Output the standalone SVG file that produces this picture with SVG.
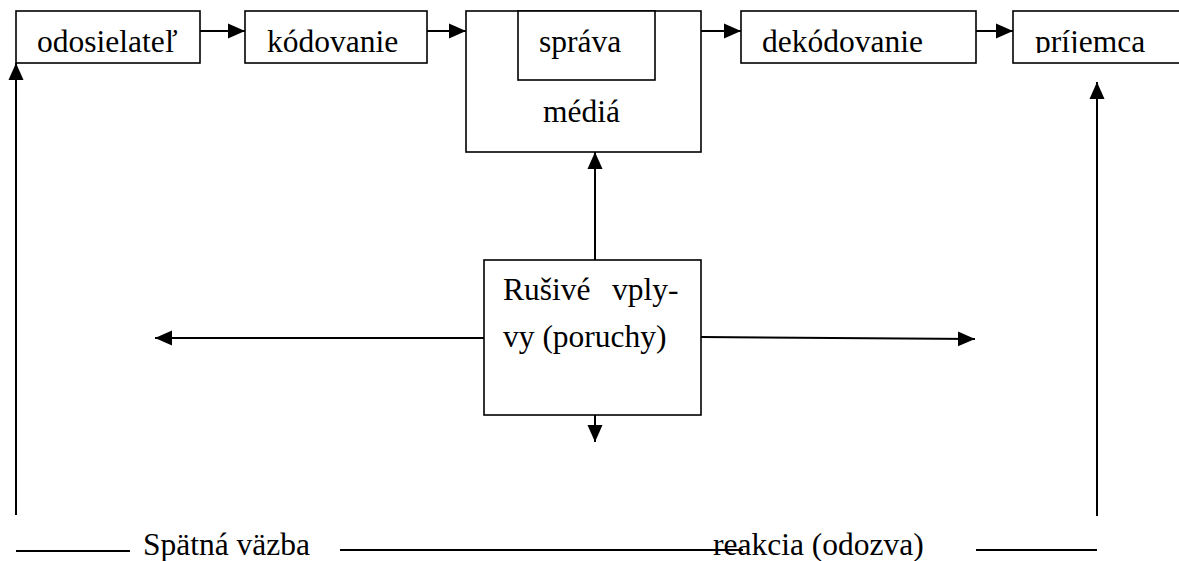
<svg xmlns="http://www.w3.org/2000/svg" width="1179" height="561" viewBox="0 0 1179 561">
<style>
  .box { fill: #fff; stroke: #000; stroke-width: 1.6; }
  .t { font-family: "Liberation Serif", "Times New Roman", serif; font-size: 31.5px; fill: #000; }
  .c { stroke: #000; stroke-width: 2; fill: none; }
  .ca { stroke: #000; stroke-width: 2; fill: none; marker-end: url(#ah); }
</style>
<defs>
  <marker id="ah" markerUnits="userSpaceOnUse" markerWidth="18" markerHeight="16" refX="17" refY="8" orient="auto">
    <path d="M0,0.5 L17,8 L0,15.5 z" fill="#000"/>
  </marker>
  <clipPath id="clipP"><rect x="1013" y="0" width="166" height="53"/></clipPath>
</defs>
<rect width="1179" height="561" fill="#fff"/>
<g id="connectors">
  <line class="ca" x1="200" y1="31" x2="245" y2="31"/>
  <line class="ca" x1="427" y1="31" x2="466" y2="31"/>
  <line class="ca" x1="701" y1="31" x2="741" y2="31"/>
  <line class="ca" x1="976" y1="31" x2="1013" y2="31"/>
  <line class="ca" x1="16" y1="515" x2="16" y2="63"/>
  <line class="ca" x1="1097" y1="516" x2="1097" y2="82"/>
  <line class="ca" x1="595" y1="260" x2="595" y2="152"/>
  <line class="ca" x1="595" y1="415" x2="595" y2="442"/>
  <line class="ca" x1="484" y1="338" x2="155" y2="338"/>
  <line class="ca" x1="701" y1="337" x2="975" y2="339"/>
  <line class="c" x1="16" y1="551" x2="130" y2="551"/>
  <line class="c" x1="340" y1="550" x2="743" y2="550"/>
  <line class="c" x1="976" y1="550" x2="1097" y2="550"/>
</g>
<g id="odosielatel">
  <rect class="box" x="16" y="11" width="184" height="52"/>
  <text class="t" x="37" y="52">odosielateľ</text>
</g>
<g id="kodovanie">
  <rect class="box" x="245" y="11" width="182" height="52"/>
  <text class="t" x="267" y="52">kódovanie</text>
</g>
<g id="media">
  <rect class="box" x="466" y="11" width="235" height="141"/>
  <text class="t" x="543" y="122">médiá</text>
</g>
<g id="sprava">
  <rect class="box" x="518" y="11" width="137" height="69"/>
  <text class="t" x="539" y="52">správa</text>
</g>
<g id="dekodovanie">
  <rect class="box" x="741" y="11" width="235" height="52"/>
  <text class="t" x="762" y="52">dekódovanie</text>
</g>
<g id="prijemca">
  <rect class="box" x="1013" y="11" width="180" height="52"/>
  <text class="t" x="1035" y="52" clip-path="url(#clipP)">príjemca</text>
</g>
<g id="rusive">
  <rect class="box" x="484" y="260" width="217" height="155"/>
  <text class="t" x="503" y="300">Rušivé</text>
  <text class="t" x="612" y="300">vply-</text>
  <text class="t" x="503" y="347">vy (poruchy)</text>
</g>
<g id="labels">
  <text class="t" x="143" y="555">Spätná väzba</text>
  <text class="t" x="713" y="555">reakcia (odozva)</text>
</g>
</svg>
